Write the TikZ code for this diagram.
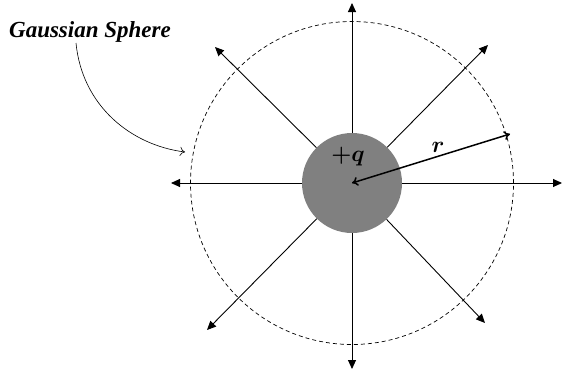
\RequirePackage{fix-cm}
\documentclass[tikz,border=0pt]{standalone}
\usepackage{amsmath,bm}
\usepackage{fontspec}
\newfontfamily\gsfont{Liberation Serif}
\usetikzlibrary{arrows.meta,calc}
\begin{document}
\begin{tikzpicture}[x=1pt,y=-1pt,
  ray/.style={line width=0.9pt,-{Triangle[length=9pt,width=8pt]}},
  radarrow/.style={line width=1.5pt,{To[length=6pt,width=9pt]}-{To[length=6pt,width=9pt]}},
  sphere/.style={draw,line width=0.7pt,dash pattern=on 4pt off 3pt},
  lbl/.style={font=\gsfont\fontsize{23}{26}\selectfont\bfseries\itshape,inner sep=0pt},
  mlbl/.style={font=\fontsize{23}{26}\selectfont,inner sep=0pt}]
\useasboundingbox (0,0) rectangle (562,372);
\coordinate (c) at (352,183);
\draw[sphere] (c) circle[radius=161.5pt];
\coordinate (up) at (352,3);
\coordinate (dn) at (352,369);
\coordinate (lf) at (171,183);
\coordinate (rt) at (562,183);
\coordinate (ul) at (215,47);
\coordinate (ur) at (488,45);
\coordinate (dl) at (207,330);
\coordinate (dr) at (485,323);
\node[circle,fill={rgb,255:red,128;green,128;blue,128},minimum size=100pt,inner sep=0pt] (q) at (c) {};
\foreach \t in {up,dn,lf,rt,ul,ur,dl,dr}
  \draw[ray] (q) -- (\t);
\coordinate (rend) at (510,134);
\draw[radarrow] (q.center) -- (rend);
\node[mlbl,anchor=base] (ql) at (348,161) {$\bm{+q}$};
\node[mlbl,anchor=base] (rl) at (438,152) {$\bm{r}$};
\node[lbl,anchor=base] (gs) at (90,37) {Gaussian Sphere};
\coordinate (gsend) at (185,152);
\draw[line width=0.6pt,-{To[length=5pt,width=9pt]}] (76,43) .. controls (82,105) and (130,145) .. (gsend);
\end{tikzpicture}
\end{document}
